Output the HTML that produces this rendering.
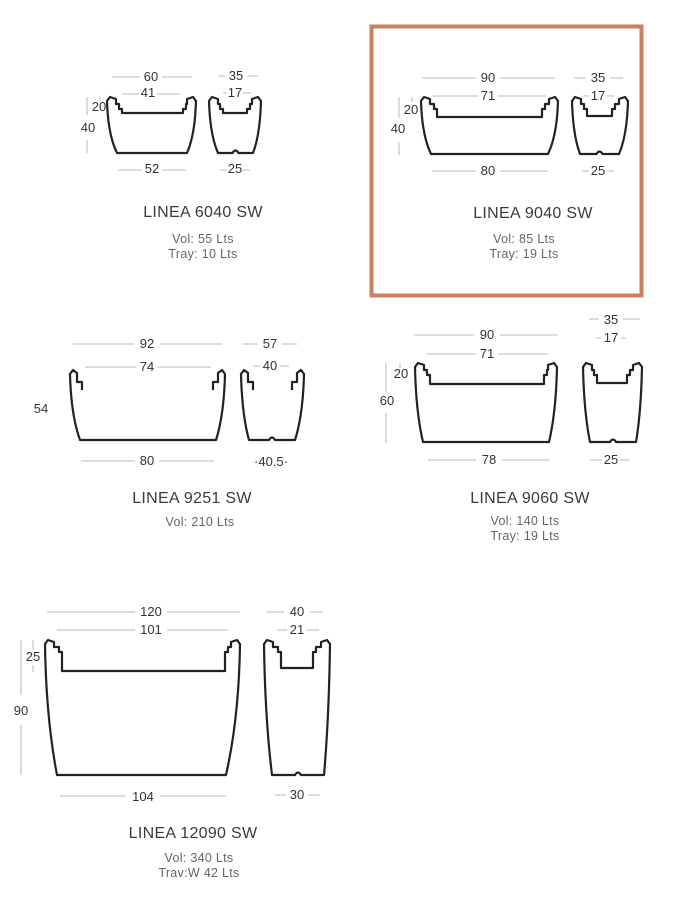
<!DOCTYPE html>
<html><head><meta charset="utf-8"><style>
html,body{margin:0;padding:0;background:#fff;}
svg{display:block;}
text{font-family:"Liberation Sans",sans-serif;fill:#333;}
.d{font-size:13px;text-anchor:middle;}
.t{font-size:16px;text-anchor:middle;fill:#3a3a3a;letter-spacing:0.3px;}
.v{font-size:12.5px;text-anchor:middle;fill:#666;letter-spacing:0.3px;}
</style></head><body>
<svg id="s" width="700" height="901" viewBox="0 0 700 901" xmlns="http://www.w3.org/2000/svg">
<g id="lines" stroke="#c8c8c8" stroke-width="1.3"></g>
<g id="shapes" fill="none" stroke="#222" stroke-width="2.2" stroke-linejoin="round"></g>
<rect x="371.5" y="26.5" width="270" height="269" fill="none" stroke="#c8805f" stroke-width="4"/>

<!-- 6040 -->
<text class="d" x="151" y="81">60</text>
<text class="d" x="148" y="97">41</text>
<text class="d" x="99" y="111">20</text>
<text class="d" x="88" y="132">40</text>
<text class="d" x="152" y="173">52</text>
<text class="d" x="236" y="80">35</text>
<text class="d" x="235" y="97">17</text>
<text class="d" x="235" y="173">25</text>
<text class="t" x="203" y="217">LINEA 6040 SW</text>
<text class="v" x="203" y="243">Vol: 55 Lts</text>
<text class="v" x="203" y="258">Tray: 10 Lts</text>

<!-- 9040 -->
<text class="d" x="488" y="82">90</text>
<text class="d" x="488" y="100">71</text>
<text class="d" x="411" y="114">20</text>
<text class="d" x="398" y="133">40</text>
<text class="d" x="488" y="175">80</text>
<text class="d" x="598" y="82">35</text>
<text class="d" x="598" y="100">17</text>
<text class="d" x="598" y="175">25</text>
<text class="t" x="533" y="218">LINEA  9040 SW</text>
<text class="v" x="524" y="243">Vol: 85 Lts</text>
<text class="v" x="524" y="258">Tray: 19 Lts</text>

<!-- 9251 -->
<text class="d" x="147" y="348">92</text>
<text class="d" x="147" y="371">74</text>
<text class="d" x="41" y="413">54</text>
<text class="d" x="147" y="465">80</text>
<text class="d" x="270" y="348">57</text>
<text class="d" x="270" y="370">40</text>
<text class="d" x="271" y="466">·40.5·</text>
<text class="t" x="192" y="503">LINEA 9251 SW</text>
<text class="v" x="200" y="526">Vol: 210 Lts</text>

<!-- 9060 -->
<text class="d" x="487" y="339">90</text>
<text class="d" x="487" y="358">71</text>
<text class="d" x="401" y="378">20</text>
<text class="d" x="387" y="405">60</text>
<text class="d" x="489" y="464">78</text>
<text class="d" x="611" y="324">35</text>
<text class="d" x="611" y="342">17</text>
<text class="d" x="611" y="464">25</text>
<text class="t" x="530" y="503">LINEA 9060 SW</text>
<text class="v" x="525" y="525">Vol: 140 Lts</text>
<text class="v" x="525" y="540">Tray: 19 Lts</text>

<!-- 12090 -->
<text class="d" x="151" y="616">120</text>
<text class="d" x="151" y="634">101</text>
<text class="d" x="33" y="661">25</text>
<text class="d" x="21" y="715">90</text>
<text class="d" x="143" y="801">104</text>
<text class="d" x="297" y="616">40</text>
<text class="d" x="297" y="634">21</text>
<text class="d" x="297" y="799">30</text>
<text class="t" x="193" y="838">LINEA 12090 SW</text>
<text class="v" x="199" y="862">Vol: 340 Lts</text>
<text class="v" x="199" y="877">Trav:W 42 Lts</text>
</svg>
<script>
var NS="http://www.w3.org/2000/svg";
function el(g,tag,a){var e=document.createElementNS(NS,tag);for(var k in a)e.setAttribute(k,a[k]);document.getElementById(g).appendChild(e);}
function H(x1,x2,y,cx,gap){el("lines","line",{x1:x1,y1:y,x2:cx-gap,y2:y});el("lines","line",{x1:cx+gap,y1:y,x2:x2,y2:y});}
function V(x,y1,y2){el("lines","line",{x1:x,y1:y1,x2:x,y2:y2});}
// planter: xl,xr top, bl,br bottom, top,bot, well il,ir,yw (yw null=hooks only), notch
function P(xl,xr,bl,br,t,b,il,ir,yw,drain){
 var r=[];
 var lx=xl, rx=xr;
 var hd = yw===null;
 var d="";
 if(hd){
  d+="M"+(xl+12)+","+(t+20)+" L"+(xl+12)+","+(t+12)+" L"+(xl+7)+","+(t+12)+" L"+(xl+7)+","+(t+3);
 } else {
  d+="M"+(il)+","+(yw)+" L"+il+","+(t+12)+" L"+(il-3)+","+(t+12)+" L"+(il-3)+","+(t+7)+" L"+(xl+9)+","+(t+7)+" L"+(xl+9)+","+(t+2);
 }
 d+=" L"+(xl+3)+","+t+" L"+xl+","+(t+4);
 d+=" Q"+(xl+1)+","+((t+b)/2+10)+" "+bl+","+b;
 if(drain){var m=(bl+br)/2;d+=" L"+(m-3)+","+b+" Q"+m+","+(b-5)+" "+(m+3)+","+b;}
 d+=" L"+br+","+b;
 d+=" Q"+(xr-1)+","+((t+b)/2+10)+" "+xr+","+(t+4)+" L"+(xr-3)+","+t;
 if(hd){
  d+=" L"+(xr-7)+","+(t+3)+" L"+(xr-7)+","+(t+12)+" L"+(xr-12)+","+(t+12)+" L"+(xr-12)+","+(t+20);
 } else {
  d+=" L"+(xr-9)+","+(t+2)+" L"+(xr-9)+","+(t+7)+" L"+(ir+3)+","+(t+7)+" L"+(ir+3)+","+(t+12)+" L"+ir+","+(t+12)+" L"+ir+","+yw+" Z";
 }
 el("shapes","path",{d:d});
}
// 6040
H(112,192,77,151,11);H(122,180,94,148,9);H(118,186,170,152,10);
H(218,258,76,236,11);H(223,251,93,235,8);H(220,250,170,235,8);
V(87,97,115);V(87,140,153);V(100,97,101);
P(107,196,117,187,97,153,122,183,113,false);
P(209,261,218,253,97,153,223,247,113,true);
// 9040
H(422,555,78,488,12);H(433,546,96,488,10);H(432,548,171,488,12);
H(574,623,78,598,12);H(583,614,96,598,9);H(582,614,171,598,9);
V(399,97,118);V(399,142,155);V(412,97,102);
P(421,558,431,548,97,154,437,542,117,false);
P(572,628,580,619,97,154,587,612,116,true);
// 9251
H(73,222,344,147,13);H(85,211,367,147,11);H(81,214,461,147,12);
H(243,297,344,270,12);H(253,289,366,270,10);
P(70,225,80,216,370,440,0,0,null,false);
P(241,304,249,295,370,440,0,0,null,true);
// 9060
H(414,558,335,487,13);H(427,548,354,487,11);H(428,550,460,489,13);
H(589,640,319,611,12);H(596,626,338,611,10);H(590,630,460,611,9);
V(386,363,392);V(386,413,443);V(400,363,368);
P(415,557,423,549,363,442,430,544,384,false);
P(583,642,590,636,363,442,597,627,383,true);
// 12090
H(47,240,612,151,16);H(57,228,630,151,16);H(60,226,796,143,17);
H(266,323,612,297,13);H(277,319,630,297,10);H(275,320,795,297,11);
V(21,640,695);V(21,725,775);V(33,640,650);V(33,665,672);
P(45,240,57,226,640,775,62,225,671,false);
P(264,330,272,324,640,775,281,313,668,true);
</script>
</body></html>
